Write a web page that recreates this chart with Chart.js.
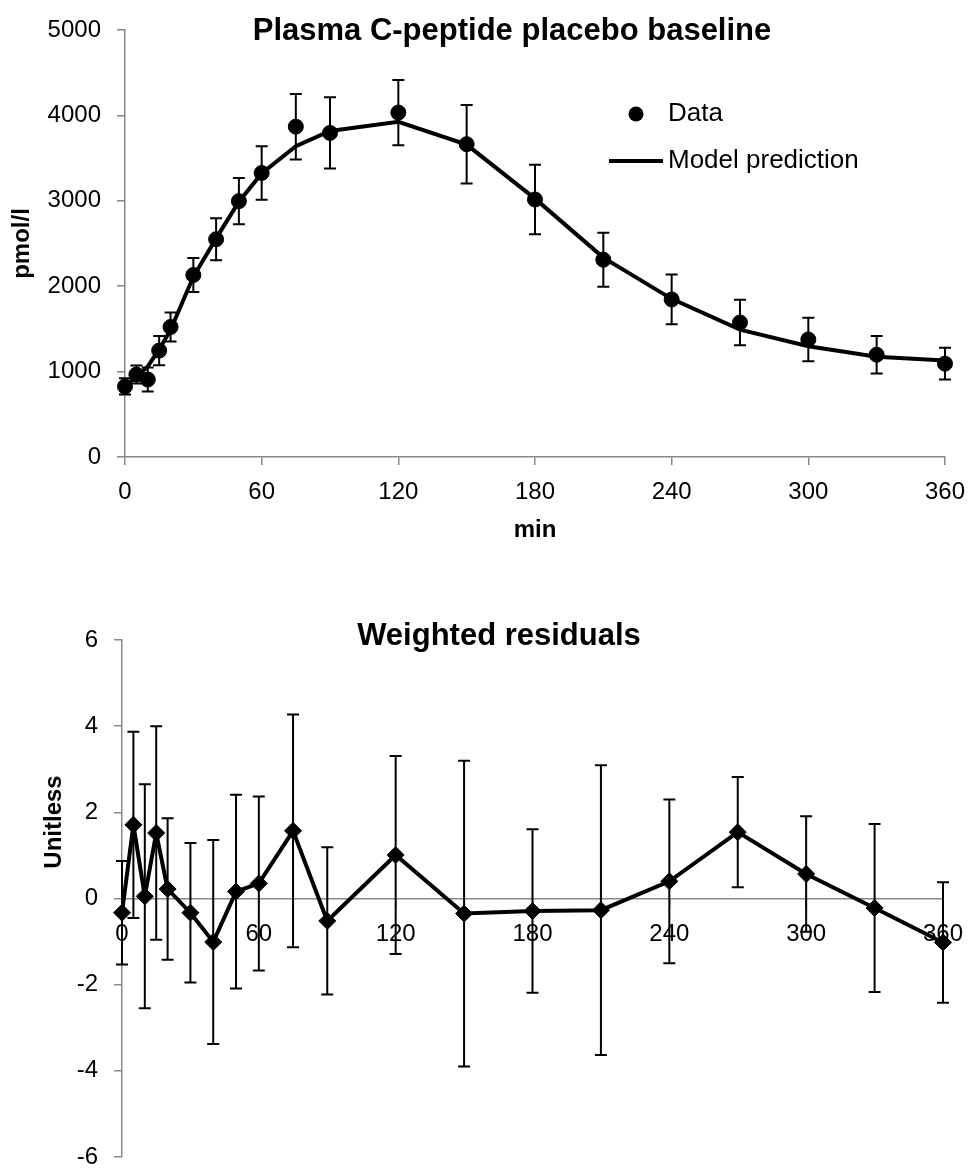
<!DOCTYPE html>
<html>
<head>
<meta charset="utf-8">
<title>Plasma C-peptide placebo baseline</title>
<script src="https://cdn.jsdelivr.net/npm/chart.js@4.4.1/dist/chart.umd.min.js"></script>
<style>
  html, body { margin: 0; padding: 0; background: #fff; }
  #wrap { position: relative; width: 978px; height: 1173px; }
  canvas { position: absolute; left: 0; }
  #top { top: 0; }
  #bottom { top: 560px; }
</style>
</head>
<body>
<div id="wrap">
  <canvas id="top" width="978" height="560"></canvas>
  <canvas id="bottom" width="978" height="613"></canvas>
</div>
<script>
// sampling times (min)
const minutes = [0, 5, 10, 15, 20, 30, 40, 50, 60, 75, 90, 120, 150, 180, 210, 240, 270, 300, 330, 360];

// plasma C-peptide, pmol/l
const cPeptide = [826, 965, 907, 1246, 1523, 2131, 2550, 2996, 3326, 3868, 3795, 4033, 3663, 3015, 2310, 1845, 1575, 1376, 1198, 1093];
const cPeptideErr = [95, 105, 140, 171, 170, 198, 246, 270, 314, 384, 418, 382, 460, 407, 315, 291, 265, 256, 219, 186];
const modelPrediction = [830, 940, 1060, 1260, 1490, 2110, 2560, 2990, 3320, 3640, 3818, 3925, 3658, 3025, 2335, 1852, 1492, 1297, 1174, 1131];

// weighted residuals (unitless)
const residuals = [-0.33, 1.71, 0.05, 1.52, 0.22, -0.33, -1.01, 0.16, 0.35, 1.57, -0.52, 1.01, -0.35, -0.29, -0.27, 0.40, 1.54, 0.57, -0.22, -1.02];
const residualErr = [1.2, 2.16, 2.6, 2.48, 1.64, 1.62, 2.37, 2.25, 2.02, 2.7, 1.71, 2.3, 3.55, 1.9, 3.36, 1.9, 1.28, 1.34, 1.95, 1.4];

// tick labels
const minuteTicks = [0, 60, 120, 180, 240, 300, 360];
const pmolTicks = [0, 1000, 2000, 3000, 4000, 5000];
const residualTicks = [-6, -4, -2, 0, 2, 4, 6];

const AXIS_GREY = '#888888';
Chart.defaults.font.family = "'Liberation Sans', Arial, sans-serif";
Chart.defaults.color = '#000';

const toPoints = (xs, ys) => xs.map((x, i) => ({ x, y: ys[i] }));
const fixedTicks = list => scale => { scale.ticks = list.map(v => ({ value: v })); };

// vertical error bars with caps, taken from dataset.errors
const errorBars = {
    id: 'errorBars',
    afterDatasetsDraw(chart) {
        const { ctx, scales: { x, y } } = chart;
        chart.data.datasets.forEach(ds => {
            if (!ds.errors) return;
            ctx.save();
            ctx.strokeStyle = '#000';
            ctx.lineWidth = 2;
            const cap = 6;
            ds.data.forEach((p, j) => {
                const px = x.getPixelForValue(p.x);
                const hi = y.getPixelForValue(p.y + ds.errors[j]);
                const lo = y.getPixelForValue(p.y - ds.errors[j]);
                ctx.beginPath();
                ctx.moveTo(px, hi); ctx.lineTo(px, lo);
                ctx.moveTo(px - cap, hi); ctx.lineTo(px + cap, hi);
                ctx.moveTo(px - cap, lo); ctx.lineTo(px + cap, lo);
                ctx.stroke();
            });
            ctx.restore();
        });
    }
};

// free text (titles sitting inside the plot, off-centre axis title)
const overlayText = {
    id: 'overlayText',
    afterDraw(chart, args, opts) {
        const ctx = chart.ctx;
        (opts.items || []).forEach(t => {
            ctx.save();
            ctx.font = t.font;
            ctx.fillStyle = '#000';
            ctx.textAlign = 'center';
            ctx.textBaseline = 'middle';
            ctx.translate(t.x, t.y);
            if (t.rotate) ctx.rotate(t.rotate);
            ctx.fillText(t.text, 0, 0);
            ctx.restore();
        });
    }
};

// legend drawn inside the plot, one row per dataset
const insideLegend = {
    id: 'insideLegend',
    afterDraw(chart, args, opts) {
        if (!opts.display) return;
        const ctx = chart.ctx;
        ctx.save();
        ctx.font = opts.font;
        ctx.fillStyle = '#000';
        ctx.strokeStyle = '#000';
        ctx.textBaseline = 'middle';
        chart.data.datasets.forEach((ds, i) => {
            const cy = opts.y + i * opts.rowGap;
            if (ds.showLine === false) {
                ctx.beginPath();
                ctx.arc(opts.x, cy, ds.pointRadius, 0, Math.PI * 2);
                ctx.fill();
            } else {
                ctx.lineWidth = ds.borderWidth;
                ctx.beginPath();
                ctx.moveTo(opts.x - 27, cy);
                ctx.lineTo(opts.x + 27, cy);
                ctx.stroke();
            }
            ctx.fillText(ds.label, opts.textX, cy);
        });
        ctx.restore();
    }
};

function axisStyle(ticks, padding) {
    return {
        grid: { drawOnChartArea: false, color: AXIS_GREY, tickLength: 8, lineWidth: 1.5 },
        border: { color: AXIS_GREY, width: 1.5 },
        ticks: { font: { size: 24 }, color: '#000', padding: padding, callback: v => String(v) },
        afterBuildTicks: fixedTicks(ticks)
    };
}

new Chart(document.getElementById('top'), {
    type: 'line',
    data: {
        datasets: [{
            label: 'Data',
            data: toPoints(minutes, cPeptide),
            errors: cPeptideErr,
            showLine: false,
            pointStyle: 'circle',
            pointRadius: 7.5,
            pointBackgroundColor: '#000',
            pointBorderColor: '#000',
            borderColor: '#000',
            backgroundColor: '#000',
            clip: false
        }, {
            label: 'Model prediction',
            data: toPoints(minutes, modelPrediction),
            borderColor: '#000',
            borderWidth: 4,
            pointRadius: 0,
            tension: 0,
            clip: false
        }]
    },
    options: {
        responsive: false,
        animation: false,
        layout: { padding: { top: 30, right: 27, left: 0, bottom: 0 } },
        plugins: {
            legend: { display: false },
            tooltip: { enabled: false },
            insideLegend: { display: true, x: 636, y: 114, rowGap: 47, textX: 668, font: "26px 'Liberation Sans', Arial, sans-serif" },
            overlayText: {
                items: [
                    { text: 'Plasma C-peptide placebo baseline', x: 512, y: 31, font: "bold 31px 'Liberation Sans', Arial, sans-serif" }
                ]
            }
        },
        scales: {
            x: {
                type: 'linear',
                min: 0,
                max: 360,
                ...axisStyle(minuteTicks, 13),
                title: { display: true, text: 'min', font: { size: 24, weight: 'bold' }, padding: { top: 0, bottom: 15 } },
                afterFit: s => { s.height = 103; }
            },
            y: {
                min: 0,
                max: 5000,
                ...axisStyle(pmolTicks, 16),
                title: { display: true, text: 'pmol/l', font: { size: 24, weight: 'bold' }, padding: { top: 8, bottom: 0 } },
                afterFit: s => { s.width = 125; s.paddingTop = 0; }
            }
        }
    },
    plugins: [errorBars, overlayText, insideLegend]
});

new Chart(document.getElementById('bottom'), {
    type: 'line',
    data: {
        datasets: [{
            label: 'Weighted residuals',
            data: toPoints(minutes, residuals),
            errors: residualErr,
            borderColor: '#000',
            backgroundColor: '#000',
            borderWidth: 4,
            pointStyle: 'rectRot',
            pointRadius: 8.5,
            pointBorderWidth: 1,
            pointBackgroundColor: '#000',
            pointBorderColor: '#000',
            tension: 0,
            clip: false
        }]
    },
    options: {
        responsive: false,
        animation: false,
        layout: { padding: { top: 80, right: 35, left: 0, bottom: 16 } },
        plugins: {
            legend: { display: false },
            tooltip: { enabled: false },
            overlayText: {
                items: [
                    { text: 'Weighted residuals', x: 499, y: 76, font: "bold 31px 'Liberation Sans', Arial, sans-serif" },
                    { text: 'Unitless', x: 54, y: 262, rotate: -Math.PI / 2, font: "bold 24px 'Liberation Sans', Arial, sans-serif" }
                ]
            }
        },
        scales: {
            x: {
                type: 'linear',
                min: 0,
                max: 360,
                position: { y: 0 },
                ...axisStyle(minuteTicks, 13)
            },
            y: {
                min: -6,
                max: 6,
                ...axisStyle(residualTicks, 16),
                // the -6 label may hang into the layout padding
                afterFit: s => { s.width = 122; s.paddingTop = 0; s.paddingBottom = 0; }
            }
        }
    },
    plugins: [errorBars, overlayText]
});
</script>
</body>
</html>
